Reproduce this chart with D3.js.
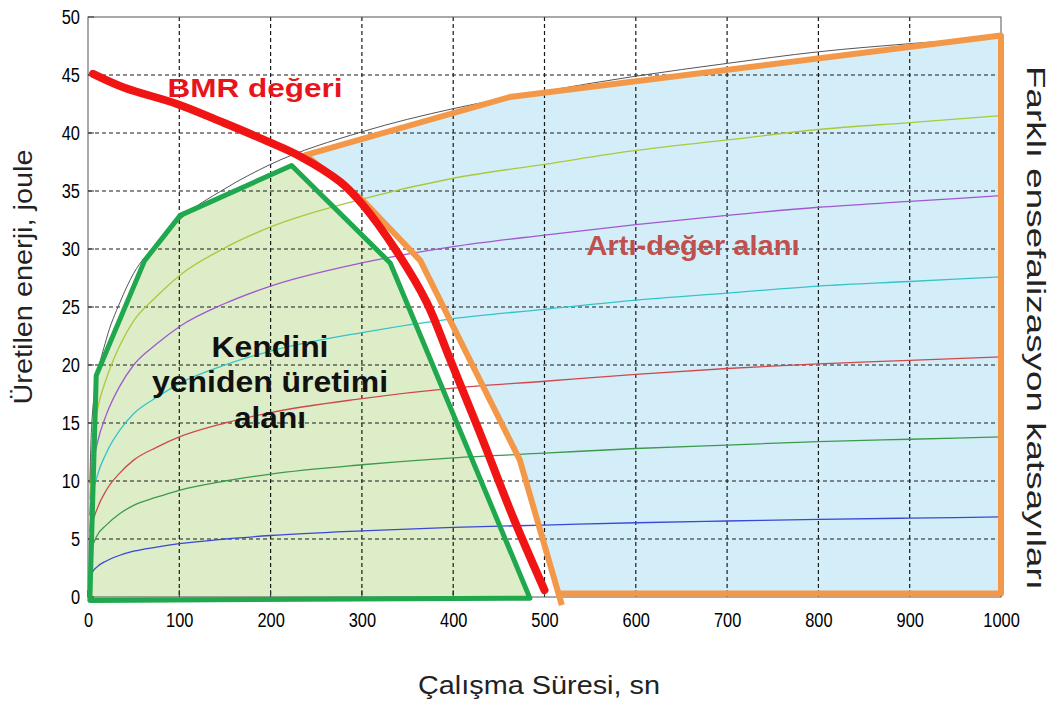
<!DOCTYPE html>
<html><head><meta charset="utf-8">
<script src="https://cdn.jsdelivr.net/npm/d3@7"></script>
<style>
body{margin:0;background:#fff}
svg{display:block}
text{font-family:"Liberation Sans",Arial,sans-serif}
</style></head>
<body><svg id="c" width="1059" height="703"></svg>
<script>
// ---- data ----
const xTicks = [0,100,200,300,400,500,600,700,800,900,1000];
const yTicks = [0,5,10,15,20,25,30,35,40,45,50];
const tSample = [2,4,10,20,35,50,75,100,150,200,300,400,500,600,700,800,900,1000];
const curveBlue   = [1.3,2.0,2.6,3.1,3.6,3.95,4.3,4.6,5.0,5.3,5.7,6.0,6.2,6.4,6.55,6.7,6.8,6.9];
const curveGreen  = [2.8,4.0,5.3,6.2,7.2,7.9,8.6,9.2,10.0,10.6,11.4,12.0,12.4,12.8,13.1,13.4,13.6,13.8];
const curveRed    = [4.2,6.0,7.6,9.2,10.7,11.8,12.9,13.8,15.0,15.9,17.1,18.0,18.6,19.2,19.7,20.1,20.4,20.7];
const curveCyan   = [5.6,8.2,10.4,12.4,14.4,15.8,17.2,18.4,20.0,21.2,22.8,24.0,24.8,25.6,26.2,26.8,27.2,27.6];
const curvePurple = [7.0,10.5,13.2,15.7,18.2,20.0,21.8,23.3,25.3,26.8,28.8,30.2,31.2,32.1,32.9,33.6,34.1,34.6];
const curveYellow = [8.4,12.5,16.0,18.8,21.7,23.8,25.9,27.7,30.1,31.9,34.3,36.1,37.3,38.5,39.4,40.3,40.9,41.5];
const curveBlack  = [9.8,14.8,18.8,22.2,25.4,27.9,30.4,32.5,35.2,37.3,40.1,42.1,43.6,44.9,46.0,47.0,47.7,48.3];
const curveNames  = ["blue","green","red","cyan","purple","yellow","black"];
const curveColors = ["#3a48d6","#3b9a4c","#d0484c","#34c4c8","#a058d0","#a9c93a","#555555"];

// BMR curve (x = süre, y = enerji)
const bmrX = [5.5,40,97.5,148,196,232,276,300,338,371,396,429,466,500];
const bmrY = [45.1,43.9,42.5,40.9,39.3,38.0,35.8,33.9,29.8,25.4,20.6,14.2,6.8,0.6];
// Green region (kendini yeniden üretimi alanı)
const greenX = [2,9,62,101,223,331,484];
const greenY = [-0.3,19.1,29.0,32.9,37.2,28.8,-0.1];
// Orange region (artı-değer alanı)
const orangeX = [519,473,364,301,238,462,1000,1000,516];
const orangeY = [-0.7,11.8,29.0,34.2,38.1,43.1,48.4,0.3,0.3];

// ---- drawing ----
const svg = d3.select("#c");
const x = d3.scaleLinear().domain([0,1000]).range([88,1001]);
const y = d3.scaleLinear().domain([0,50]).range([597,17]);

svg.append("rect").attr("width",1059).attr("height",703).attr("fill","#fff");

const pts = (xs,ys)=>xs.map((v,i)=>[x(v),y(ys[i])]);

// fills
svg.append("path").attr("d", d3.line()(pts(greenX,greenY))+"Z").attr("fill","#dcedc8");
svg.append("path").attr("d", d3.line()(pts(orangeX,orangeY))+"Z").attr("fill","#d4eef9");

// grid
const grid = svg.append("g").attr("stroke","#1a1a1a").attr("stroke-width",1.2).attr("stroke-dasharray","4,3");
xTicks.slice(1,-1).forEach(v=>grid.append("line").attr("x1",x(v)).attr("x2",x(v)).attr("y1",y(50)).attr("y2",y(0)));
yTicks.slice(1,-1).forEach(v=>grid.append("line").attr("x1",x(0)).attr("x2",x(1000)).attr("y1",y(v)).attr("y2",y(v)));

// frame + inner ticks
svg.append("rect").attr("x",x(0)).attr("y",y(50)).attr("width",x(1000)-x(0)).attr("height",y(0)-y(50))
  .attr("fill","none").attr("stroke","#555").attr("stroke-width",1);
const tk = svg.append("g").attr("stroke","#333").attr("stroke-width",1);
xTicks.forEach(v=>tk.append("line").attr("x1",x(v)).attr("x2",x(v)).attr("y1",y(0)).attr("y2",y(0)-7));
yTicks.forEach(v=>tk.append("line").attr("x1",x(0)).attr("x2",x(0)+6).attr("y1",y(v)).attr("y2",y(v)));

// curves
const line = d3.line().x(d=>x(d[0])).y(d=>y(d[1])).curve(d3.curveMonotoneX);
const allCurves = [curveBlue,curveGreen,curveRed,curveCyan,curvePurple,curveYellow,curveBlack];
allCurves.forEach((vals,i)=>{
  svg.append("path").datum(tSample.map((t,j)=>[t,vals[j]]))
    .attr("d",line).attr("fill","none").attr("stroke",curveColors[i])
    .attr("stroke-width", i===6?1:1.3).attr("class","c-"+curveNames[i]);
});

// region outlines
svg.append("path").attr("d", d3.line()(pts(greenX,greenY))+"Z")
  .attr("fill","none").attr("stroke","#1fa84d").attr("stroke-width",5).attr("stroke-linejoin","round");
svg.append("path").attr("d", d3.line()(pts(orangeX,orangeY)))
  .attr("fill","none").attr("stroke","#f39848").attr("stroke-width",6).attr("stroke-linejoin","round");

// BMR curve
svg.append("path").datum(bmrX.map((v,i)=>[v,bmrY[i]]))
  .attr("d", d3.line().x(d=>x(d[0])).y(d=>y(d[1])).curve(d3.curveCatmullRom.alpha(0.5)))
  .attr("fill","none").attr("stroke","#f01414").attr("stroke-width",8).attr("stroke-linecap","round");

// axes labels
function fit(sel, ratio){
  sel.each(function(){
    const w = this.getComputedTextLength();
    d3.select(this).attr("textLength", w*ratio).attr("lengthAdjust","spacingAndGlyphs");
  });
}
function fitW(sel, w){ sel.attr("textLength", w).attr("lengthAdjust","spacingAndGlyphs"); }

const ax = svg.append("g").attr("transform",`translate(0,${y(0)})`)
  .call(d3.axisBottom(x).tickValues(xTicks).tickSize(0).tickPadding(15.5).tickFormat(d3.format("d")));
const ay = svg.append("g").attr("transform",`translate(${x(0)},0)`)
  .call(d3.axisLeft(y).tickValues(yTicks).tickSize(0).tickPadding(8).tickFormat(d3.format("d")));
[ax,ay].forEach(a=>{
  a.select(".domain").remove();
  a.selectAll("text").attr("font-size",20.5).attr("fill","#000").style("font-family","'Liberation Sans',Arial,sans-serif");
  fit(a.selectAll("text"),0.8);
});

// titles
const yt = svg.append("text").attr("transform","translate(32,277) rotate(-90)")
  .attr("text-anchor","middle").attr("font-size",25).attr("fill","#222").text("Üretilen enerji, joule");
fitW(yt,255);
const rt = svg.append("text").attr("transform","translate(1027,328) rotate(90)")
  .attr("text-anchor","middle").attr("font-size",25).attr("fill","#222").text("Farklı ensefalizasyon katsayıları");
fitW(rt,524);
const xt = svg.append("text").attr("x",539).attr("y",694)
  .attr("text-anchor","middle").attr("font-size",26).attr("fill","#222").text("Çalışma Süresi, sn");
fitW(xt,242);

// annotations
const bmr = svg.append("text").attr("x",255).attr("y",97).attr("text-anchor","middle")
  .attr("font-size",26).attr("font-weight","bold").attr("fill","#e8141c").text("BMR değeri");
fitW(bmr,175);
const art = svg.append("text").attr("x",693).attr("y",255).attr("text-anchor","middle")
  .attr("font-size",27).attr("font-weight","bold").attr("fill","#c0504d").text("Artı-değer alanı");
fitW(art,213);
const kLines = ["Kendini","yeniden üretimi","alanı"];
const kW = [117,236,72];
const kY = [357,392,428];
kLines.forEach((s,i)=>{
  const t = svg.append("text").attr("x",270).attr("y",kY[i]).attr("text-anchor","middle")
    .attr("font-size",29).attr("font-weight","bold").attr("fill","#111").text(s);
  fitW(t,kW[i]);
});
</script></body></html>
